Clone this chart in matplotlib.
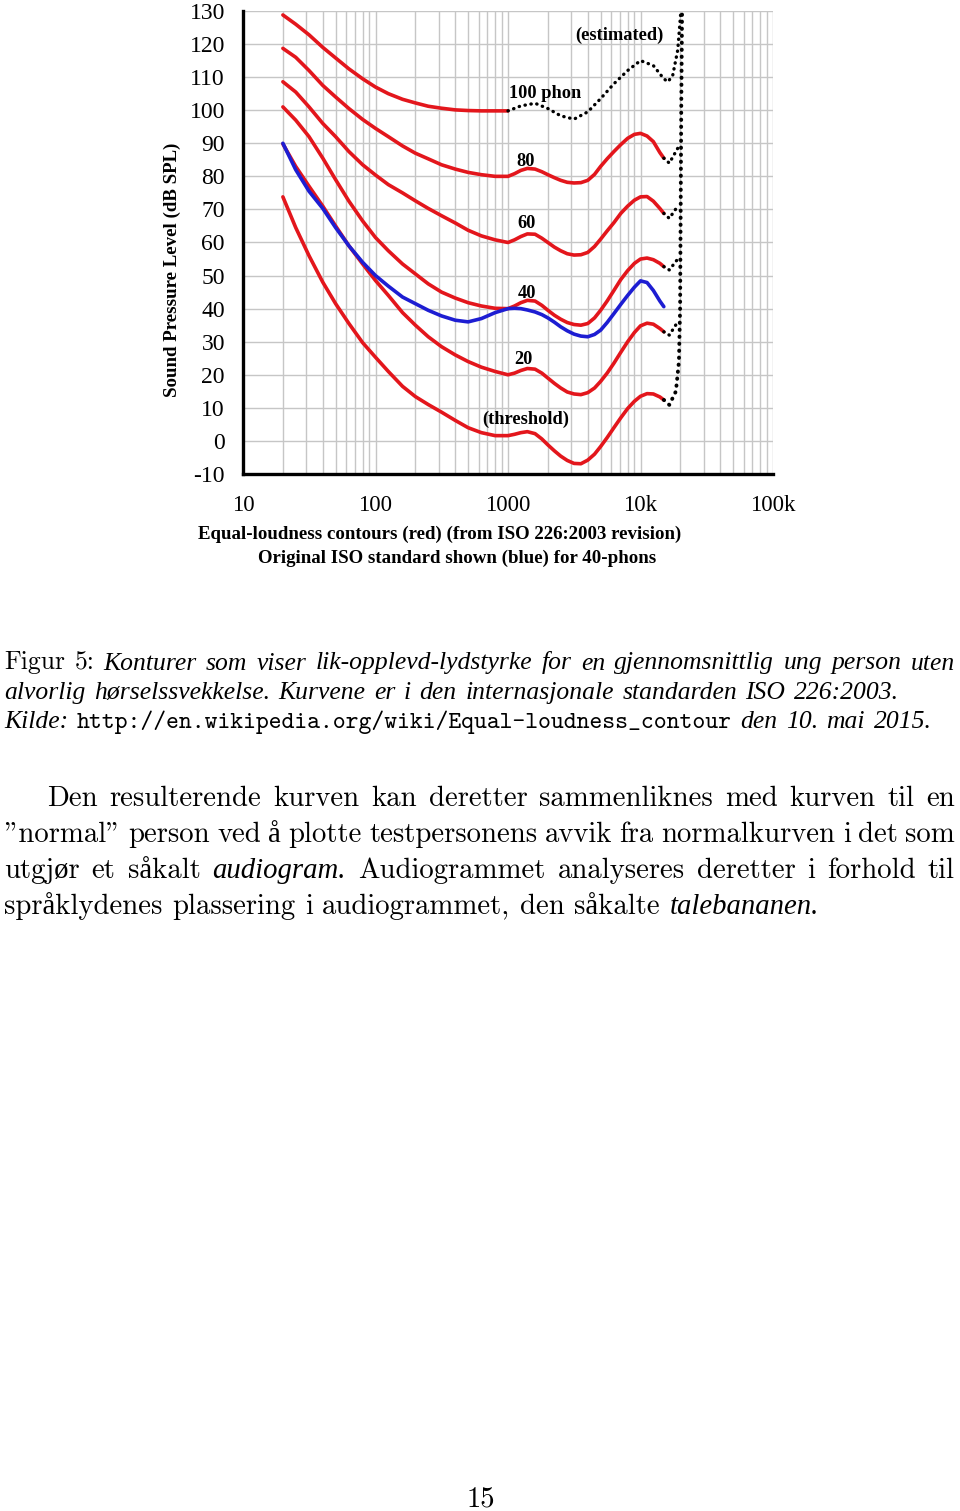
import matplotlib
matplotlib.use('Agg')
import matplotlib.pyplot as plt
from matplotlib.ticker import LogLocator, NullFormatter
from matplotlib.transforms import IdentityTransform

plt.rcParams['axes.unicode_minus'] = False

# equal-loudness contours (Hz, dB SPL)
freq = [20, 25, 31.5, 40, 50, 63, 80, 100, 125, 160, 200, 250, 315, 400, 500, 630, 800,
        1000, 1120, 1250, 1400, 1600, 1800, 2000, 2240, 2500, 2800, 3150, 3550, 4000, 4500,
        5000, 5600, 6300, 7100, 8000, 9000, 10000, 11200, 12500, 14000, 15000]
spl_threshold = [73.8, 64.5, 56, 48, 41.5, 35.5, 29.7, 25.3, 21, 16.5, 13.4, 11, 8.7, 6.2, 4, 2.5, 1.6,
                 1.6, 2.0, 2.5, 2.8, 2.2, 0.6, -1.2, -3.0, -4.6, -5.9, -6.8, -6.9, -5.8, -4.0,
                 -1.7, 1.0, 4.0, 7.0, 9.8, 12.0, 13.5, 14.3, 14.2, 13.3, 12.4]
spl_20 = [89.8, 83, 77, 71, 65, 59, 53.5, 48.5, 44, 38.8, 35, 31.5, 28.5, 26, 24, 22.3, 21,
          20, 20.5, 21.3, 21.9, 21.7, 20.5, 19, 17.4, 16, 14.8, 14.2, 14.0, 14.6, 16.0,
          18, 20.5, 23.5, 26.8, 30, 32.8, 34.8, 35.6, 35.3, 34.0, 33]
spl_40 = [101, 97, 92, 85.5, 79, 72.5, 66.5, 61.5, 57.5, 53.5, 50.5, 47.5, 45, 43.2, 41.8, 40.8, 40.1,
          40, 40.8, 41.8, 42.5, 42.3, 41.0, 39.5, 38.0, 36.8, 35.8, 35.2, 35.0, 35.5, 37.2,
          39.5, 42.3, 45.5, 48.8, 51.5, 53.7, 55, 55.3, 54.8, 53.7, 52.7]
spl_60 = [108.6, 105.5, 101, 96, 92, 87.5, 83.5, 80.4, 77.5, 75, 72.6, 70.3, 68.1, 65.9, 63.7, 62, 60.8,
          60, 60.8, 61.8, 62.6, 62.5, 61.3, 60, 58.6, 57.5, 56.6, 56.2, 56.3, 57, 58.8,
          61, 63.5, 66, 68.8, 71, 72.8, 73.8, 73.9, 72.5, 70.3, 68.8]
spl_80 = [118.7, 116, 112, 107.5, 104, 100.5, 97.2, 94.5, 92, 89.2, 87, 85.3, 83.5, 82.2, 81.2, 80.5, 80,
          80, 80.8, 81.8, 82.4, 82.2, 81.4, 80.5, 79.6, 78.8, 78.2, 78, 78.1, 78.8, 80.6,
          83, 85.3, 87.5, 89.6, 91.5, 92.7, 93, 92.2, 90.5, 87.2, 85.5]
spl_100 = [128.8, 126, 122.8, 119, 115.8, 112.5, 109.5, 107, 105, 103.3, 102.2, 101.2, 100.6,
           100.1, 99.9, 99.8, 99.8, 99.8]
spl_40_original = [90, 82, 75.5, 70.3, 64.5, 59, 54, 50, 46.8, 43.5, 41.5, 39.5, 37.8, 36.5, 36, 37, 38.8,
                   40, 40.1, 40, 39.6, 39, 38.2, 37.2, 35.9, 34.5, 33.3, 32.3, 31.7, 31.5, 32.2,
                   33.5, 35.8, 38.5, 41.3, 44, 46.5, 48.4, 47.9, 45.5, 42.3, 40.6]

# estimated (dotted) parts
freq_100_est = [1000, 1250, 1600, 2000, 2500, 3150, 4000, 5000, 6300, 8000, 10000, 12500,
                15000, 16100, 17500, 19100, 20200]
spl_100_est = [99.8, 101.3, 102.1, 100.5, 98.3, 97.3, 99.5, 103.5, 108, 112, 115, 113.5,
               109.5, 108.6, 110.5, 118.2, 130.3]
freq_tail = [15000, 16500, 19100]
tails = {80: [85.5, 84.0, 88.5], 60: [68.8, 67.3, 71], 40: [52.7, 51.7, 55], 20: [33.0, 32.0, 36]}
freq_limit = [15000, 16500, 18500, 19500, 19900, 20100, 20300, 20600]
spl_limit = [12.4, 10.9, 15, 24, 40, 70, 100, 130.5]

xtick_vals = [10, 100, 1000, 10000, 100000]
xtick_text = ['10', '100', '1000', '10k', '100k']
curve_labels = ['(estimated)', '100 phon', '80', '60', '40', '20', '(threshold)']
label_freq = [6870, 1920, 1360, 1380, 1380, 1300, 1360]
label_spl = [122.7, 105.2, 84.6, 65.6, 44.7, 24.5, 6.6]

RED = '#e3161c'
BLUE = '#1d1dd2'
W, H = 960, 1511
SERIF = 'Liberation Serif'

fig = plt.figure(figsize=(W / 100, H / 100), dpi=100, facecolor='white')
ax = fig.add_axes([243 / W, 1 - 474 / H, 530 / W, 463 / H])
ax.set_xscale('log')
ax.set_xlim(10, 1e5)
ax.set_ylim(-10, 130)
ax.set_yticks(range(-10, 131, 10))
ax.set_xticks(xtick_vals, xtick_text)
ax.xaxis.set_minor_locator(LogLocator(base=10, subs=range(2, 10)))
ax.xaxis.set_minor_formatter(NullFormatter())
ax.grid(True, which='both', color='#c6c6c6', lw=1.0)
ax.set_axisbelow(True)
ax.tick_params(which='both', length=0)
ax.tick_params(axis='x', pad=15, labelsize=16.5)
ax.tick_params(axis='y', pad=13, labelsize=17)
for lab in ax.get_xticklabels() + ax.get_yticklabels():
    lab.set_fontfamily(SERIF)
for side in ['top', 'right']:
    ax.spines[side].set_visible(False)
for side in ['left', 'bottom']:
    ax.spines[side].set_linewidth(2.4)
    ax.spines[side].set_color('black')

ax.set_ylabel('Sound Pressure Level (dB SPL)', family=SERIF, weight='bold', fontsize=13.6)
ax.yaxis.set_label_coords(-0.117, 0.44)

lw = 2.6
for s in [spl_threshold, spl_20, spl_40, spl_60, spl_80]:
    ax.plot(freq, s, color=RED, lw=lw, solid_capstyle='round', solid_joinstyle='round')
ax.plot(freq[:len(spl_100)], spl_100, color=RED, lw=lw, solid_capstyle='round',
        solid_joinstyle='round')
ax.plot(freq, spl_40_original, color=BLUE, lw=lw, solid_capstyle='round', solid_joinstyle='round')

dots = dict(color='black', linestyle=(0, (0.1, 1.7)), dash_capstyle='round')
ax.plot(freq_100_est, spl_100_est, lw=2.4, **dots)
for k, v in tails.items():
    ax.plot(freq_tail, v, lw=2.4, **dots)
ax.plot(freq_limit, spl_limit, lw=2.8, **dots)

for t, f, s in zip(curve_labels, label_freq, label_spl):
    ax.text(f, s, t, ha='center', va='center', family=SERIF, weight='bold', fontsize=13.2)

fig.text(440 / W, 1 - 534 / H, 'Equal-loudness contours (red) (from ISO 226:2003 revision)',
         ha='center', va='center', family=SERIF, weight='bold', fontsize=13.6)
fig.text(457 / W, 1 - 558 / H, 'Original ISO standard shown (blue) for 40-phons',
         ha='center', va='center', family=SERIF, weight='bold', fontsize=13.6)

# ---- page text ----
STYLES = {
    'rm': (1.0, dict(family=['cmr10', 'Liberation Serif'])),
    'it': (1.0, dict(family=['Liberation Serif'], style='italic')),
    'tt': (0.955, dict(family=['cmtt10', 'Liberation Mono'])),
}
renderer = fig.canvas.get_renderer()
px = IdentityTransform()


def words(text, st):
    return [(w, st) for w in text.split()]


def make(w, st, size):
    k, kw = STYLES[st]
    return fig.text(0, 0, w, transform=px, fontsize=size * k, va='baseline', ha='left', **kw)


def measure(line, size):
    tot = 0
    for w, st in line:
        t = make(w, st, size)
        tot += t.get_window_extent(renderer).width
        t.remove()
    return tot + (len(line) - 1) * 0.333 * size * 100 / 72


def set_line(line, base, x0, size, x1=None):
    items = [make(w, st, size) for w, st in line]
    widths = [t.get_window_extent(renderer).width for t in items]
    space = 0.333 * size * 100 / 72
    if x1 is not None:
        space = (x1 - x0 - sum(widths)) / (len(items) - 1)
    x = x0
    for t, w in zip(items, widths):
        t.set_position((x, H - base))
        x += w + space


cap1 = words('Figur 5:', 'rm') + words(
    'Konturer som viser lik-opplevd-lydstyrke for en gjennomsnittlig ung person uten', 'it')
cap2 = words('alvorlig hørselssvekkelse. Kurvene er i den internasjonale standarden ISO 226:2003.', 'it')
cap3 = words('Kilde:', 'it') + words('http://en.wikipedia.org/wiki/Equal-loudness_contour', 'tt') + \
    words('den 10. mai 2015.', 'it')
body1 = words('Den resulterende kurven kan deretter sammenliknes med kurven til en', 'rm')
body2 = words('"normal" person ved å plotte testpersonens avvik fra normalkurven i det som', 'rm')
body3 = words('utgjør et såkalt', 'rm') + words('audiogram.', 'it') + \
    words('Audiogrammet analyseres deretter i forhold til', 'rm')
body4 = words('språklydenes plassering i audiogrammet, den såkalte', 'rm') + words('talebananen.', 'it')

cap_size = 10 * 894 / measure(cap2, 10)
body_size = 10 * 818 / measure(body4, 10)

set_line(cap1, 669.5, 4, cap_size, 955)
set_line(cap2, 699, 4, cap_size)
set_line(cap3, 728.5, 4, cap_size)
set_line(body1, 806.5, 47, body_size, 955)
set_line(body2, 842.5, 4, body_size, 955)
set_line(body3, 878, 4, body_size, 955)
set_line(body4, 913.5, 4, body_size)

fig.text(481, H - 1506.5, '15', transform=px, ha='center', va='baseline',
         fontsize=body_size, **STYLES['rm'][1])

fig.savefig('out.png', dpi=100, facecolor='white')
